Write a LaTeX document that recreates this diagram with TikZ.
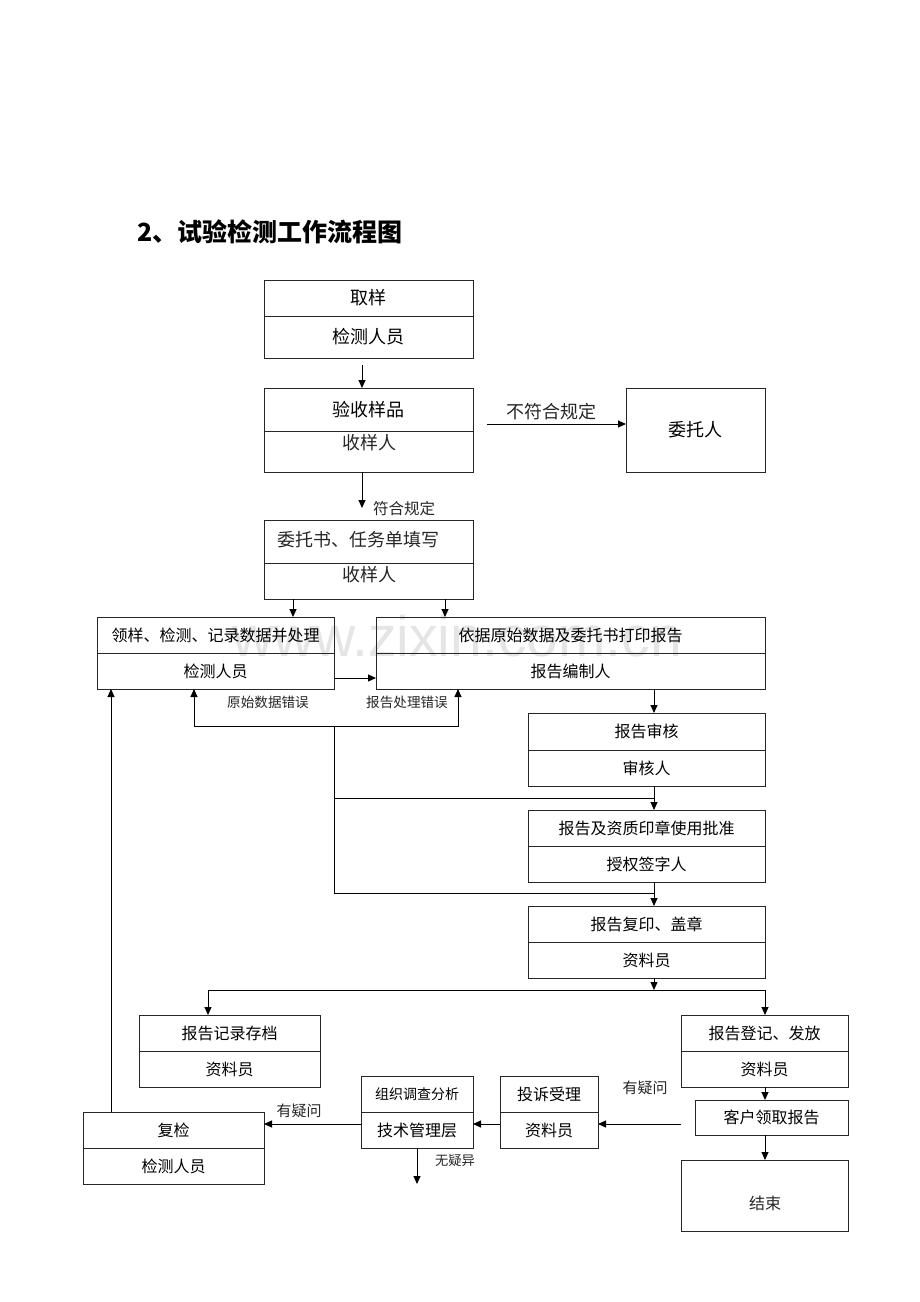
\documentclass[tikz,border=0pt]{standalone}
\usepackage{fontspec}
\setmainfont{Noto Sans CJK SC}
\newfontfamily\wmfont{Liberation Sans}
\usetikzlibrary{arrows.meta}
\newcommand{\fs}[1]{\fontsize{#1}{#1}\selectfont}
\tikzset{
 bx/.style={draw=black!85, line width=1pt, inner sep=0pt, outer sep=0pt},
 arr/.style={draw=black, line width=1pt, -{Triangle[length=8pt,width=7pt]}},
 ln/.style={draw=black, line width=1pt},
 lbl/.style={inner sep=0pt, text=black!85},
}
\newcommand{\bpart}[7]{\node[bx, minimum width={(#4-#2)*1pt}, minimum height={(#5-#3)*1pt}, font=\fs{#6}] (#1) at ({(#2+#4)/2},{-(#3+#5)/2}) {#7};}
\begin{document}
\begin{tikzpicture}[x=1pt,y=1pt]
\fill[white] (0,0) rectangle (920,-1302);
\useasboundingbox (0,0) rectangle (920,-1302);
% watermark
\node[inner sep=0pt, text=black!10, font=\wmfont\fs{57}] (wm) at (457,-636) {www.zixin.com.cn};
% title
\node[inner sep=0pt, anchor=west, font=\fs{25}\bfseries] (title) at (137,-232) {2、试验检测工作流程图};
% column / row coordinates
\coordinate (x111) at (111,0);
\coordinate (x194) at (194,0);
\coordinate (x208) at (208,0);
\coordinate (x293) at (293,0);
\coordinate (x334) at (334,0);
\coordinate (x362) at (362,0);
\coordinate (x417) at (417,0);
\coordinate (x445) at (445,0);
\coordinate (x458) at (458,0);
\coordinate (x654) at (654,0);
\coordinate (x765) at (765,0);
\coordinate (y424) at (0,-424);
\coordinate (y678) at (0,-678);
\coordinate (y726) at (0,-726);
\coordinate (y798) at (0,-798);
\coordinate (y893) at (0,-893);
\coordinate (y990) at (0,-990);
\coordinate (y1124) at (0,-1124);
\coordinate (endq) at (417,-1184);
% boxes
\bpart{b1t}{264}{280}{473}{316}{18}{取样}
\bpart{b1b}{264}{316}{473}{358}{18}{检测人员}
\bpart{b2t}{264}{388}{473}{431}{18}{验收样品}
\bpart{b2b}{264}{431}{473}{472}{18}{}
\node[lbl, font=\fs{18}] (t2b) at (369,-443) {收样人};
\bpart{wt}{626}{388}{765}{472}{18}{委托人}
\bpart{b3t}{264}{520}{473}{563}{18}{}
\node[lbl, font=\fs{18}] (t3t) at (358,-540) {委托书、任务单填写};
\bpart{b3b}{264}{563}{473}{599}{18}{}
\node[lbl, font=\fs{18}] (t3b) at (369,-575) {收样人};
\bpart{b4lt}{97}{617}{334}{653}{16}{领样、检测、记录数据并处理}
\bpart{b4lb}{97}{653}{334}{689}{16}{检测人员}
\bpart{b4rt}{376}{617}{765}{653}{16}{依据原始数据及委托书打印报告}
\bpart{b4rb}{376}{653}{765}{689}{16}{报告编制人}
\bpart{b5t}{528}{713}{765}{750}{16}{报告审核}
\bpart{b5b}{528}{750}{765}{786}{16}{审核人}
\bpart{b6t}{528}{810}{765}{846}{16}{报告及资质印章使用批准}
\bpart{b6b}{528}{846}{765}{882}{16}{授权签字人}
\bpart{b7t}{528}{906}{765}{942}{16}{报告复印、盖章}
\bpart{b7b}{528}{942}{765}{978}{16}{资料员}
\bpart{b8t}{139}{1015}{320}{1051}{16}{报告记录存档}
\bpart{b8b}{139}{1051}{320}{1087}{16}{资料员}
\bpart{b9t}{681}{1015}{848}{1051}{16}{报告登记、发放}
\bpart{b9b}{681}{1051}{848}{1087}{16}{资料员}
\bpart{b10}{695}{1100}{848}{1135}{16}{客户领取报告}
\bpart{b11}{681}{1160}{848}{1231}{16}{}
\node[lbl, font=\fs{16}] (t11) at (765,-1203) {结束};
\bpart{b12t}{500}{1076}{598}{1112}{16}{投诉受理}
\bpart{b12b}{500}{1112}{598}{1148}{16}{资料员}
\bpart{b13t}{361}{1076}{473}{1112}{14}{组织调查分析}
\bpart{b13b}{361}{1112}{473}{1148}{16}{技术管理层}
\bpart{b14t}{83}{1112}{264}{1148}{16}{复检}
\bpart{b14b}{83}{1148}{264}{1184}{16}{检测人员}
% connectors
\draw[arr, shorten <=7pt] (b1b.south -| x362) -- (b2t.north -| x362);
\draw[arr, shorten <=14pt] (b2t.east |- y424) -- (wt.west |- y424);
\node[lbl, font=\fs{18}] (l1) at (551,-412) {不符合规定};
\draw[arr, shorten >=12pt] (b2b.south -| x362) -- (b3t.north -| x362);
\node[lbl, font=\fs{15.5}] (l2) at (404,-509) {符合规定};
\draw[arr] (b3b.south -| x293) -- (b4lt.north -| x293);
\draw[arr] (b3b.south -| x445) -- (b4rt.north -| x445);
\draw[arr] (b4lb.east |- y678) -- (b4rb.west |- y678);
% error loop
\draw[arr] (x334 |- y726) -| (b4lb.south -| x194);
\draw[arr] (x334 |- y726) -| (b4rb.south -| x458);
\node[lbl, font=\fs{13.6}] (l3) at (268,-702) {原始数据错误};
\node[lbl, font=\fs{13.6}] (l4) at (407,-702) {报告处理错误};
\draw[ln] (x334 |- y726) -- (x334 |- y893) -- (x654 |- y893);
\draw[ln] (x334 |- y798) -- (x654 |- y798);
% right column
\draw[arr] (b4rb.south -| x654) -- (b5t.north -| x654);
\draw[arr] (b5b.south -| x654) -- (b6t.north -| x654);
\draw[arr] (b6b.south -| x654) -- (b7t.north -| x654);
\draw[arr] (b7b.south -| x654) -- (x654 |- y990);
\draw[arr] (x654 |- y990) -| (b8t.north -| x208);
\draw[arr] (x654 |- y990) -| (b9t.north -| x765);
\draw[arr] (b9b.south -| x765) -- (b10.north -| x765);
\draw[arr] (b10.south -| x765) -- (b11.north -| x765);
% complaint path
\draw[arr] (b9b.south west |- y1124) -- (b12b.east |- y1124);
\node[lbl, font=\fs{15}] (l5) at (645,-1088) {有疑问};
\draw[arr] (b12b.west |- y1124) -- (b13b.east |- y1124);
\draw[arr] (b13b.west |- y1124) -- (b14t.east |- y1124);
\node[lbl, font=\fs{15}] (l6) at (299,-1111) {有疑问};
\draw[arr] (b13b.south -| x417) -- (endq);
\node[lbl, font=\fs{13.3}] (l7) at (455,-1160) {无疑异};
\draw[arr] (b14t.north -| x111) -- (b4lb.south -| x111);
\end{tikzpicture}
\end{document}
